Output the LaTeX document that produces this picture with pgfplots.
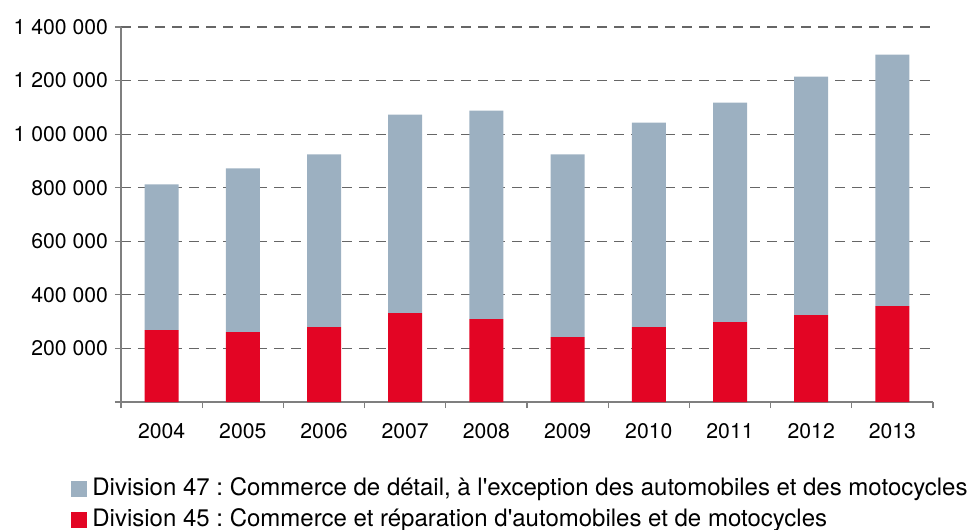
\documentclass[border=0pt]{standalone}
\usepackage{pgfplots}
\pgfplotsset{compat=1.18}
\usepackage{fontspec}
\setmainfont{TeX Gyre Heros}[Ligatures=TeXOff]
\frenchspacing
\definecolor{cgrey}{HTML}{9CB0C1}
\definecolor{cred}{HTML}{E30524}
\definecolor{gridc}{HTML}{666666}
\definecolor{axc}{HTML}{7F7F7F}
\begin{document}
\begin{tikzpicture}
\path[use as bounding box] (-60.5pt,-63.5pt) rectangle (425.5pt,201pt);
\begin{axis}[
  at={(0pt,0pt)}, anchor=south west,
  width=406pt, height=187.5pt, scale only axis,
  xmin=-0.5, xmax=9.5, ymin=0, ymax=1400000,
  ybar stacked, bar width=17pt,
  axis x line=bottom, axis y line=left,
  x axis line style={-, draw=axc, line width=0.8pt},
  y axis line style={-, draw=axc, line width=0.8pt},
  tick align=outside,
  xtick={0,...,9},
  xticklabels={2004,2005,2006,2007,2008,2009,2010,2011,2012,2013},
  major x tick style={draw=none},
  minor xtick={-0.5,0.5,...,9.5},
  minor x tick style={draw=axc, line width=0.6pt},
  minor tick length=3pt, major tick length=3pt,
  y tick style={draw=axc, line width=0.6pt},
  ytick={0,200000,400000,600000,800000,1000000,1200000,1400000},
  yticklabels={,200 000,400 000,600 000,800 000,1 000 000,1 200 000,1 400 000},
  scaled y ticks=false,
  ymajorgrids,
  grid style={gridc, dash pattern=on 5pt off 3.5pt, line width=0.6pt},
  tick label style={font=\fontsize{10.6pt}{12pt}\selectfont, black},
  xticklabel style={yshift=-4pt},
  reverse legend,
  legend style={at={(-0.0616,-0.195)}, anchor=north west, draw=none, fill=none,
    font=\fontsize{12pt}{14pt}\selectfont, cells={anchor=west}, row sep=2pt,
    inner sep=0pt, nodes={inner xsep=1pt, inner ysep=1pt, text height=9pt, text depth=2.5pt}},
  legend image code/.code={\fill[#1,draw=none] (0pt,-4pt) rectangle (8pt,4pt);},
]
\addplot[fill=cred, draw=none] coordinates {
 (0,268300) (1,260800) (2,279500) (3,331600) (4,309300)
 (5,242200) (6,279500) (7,298100) (8,324200) (9,357700)};
\addlegendentry{\hspace{1.5pt}Division 45 : Commerce et réparation d'automobiles et de motocycles}
\addplot[fill=cgrey, draw=none] coordinates {
 (0,544000) (1,611100) (2,644500) (3,741500) (4,778700)
 (5,681800) (6,763800) (7,819700) (8,890500) (9,938900)};
\addlegendentry{\hspace{1.5pt}Division 47 : Commerce de détail, à l'exception des automobiles et des motocycles}
\end{axis}
\end{tikzpicture}
\end{document}
